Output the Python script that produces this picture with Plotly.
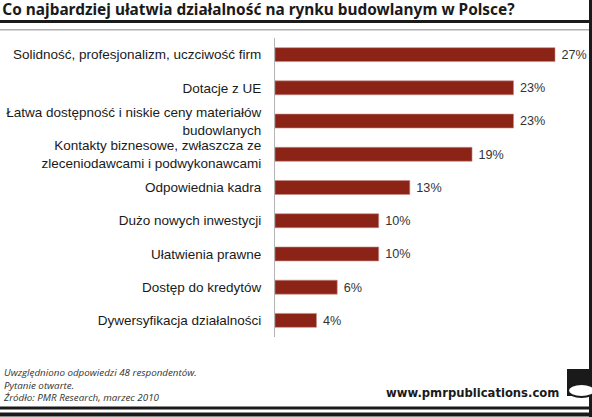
import plotly.graph_objects as go

# Data
categories = [
    "Solidność, profesjonalizm, uczciwość firm",
    "Dotacje z UE",
    "Łatwa dostępność i niskie ceny materiałów<br>budowlanych",
    "Kontakty biznesowe, zwłaszcza ze<br>zleceniodawcami i podwykonawcami",
    "Odpowiednia kadra",
    "Dużo nowych inwestycji",
    "Ułatwienia prawne",
    "Dostęp do kredytów",
    "Dywersyfikacja działalności",
]
values = [27, 23, 23, 19, 13, 10, 10, 6, 4]

title_text = "Co najbardziej ułatwia działalność na rynku budowlanym w Polsce?"
footnote = ("Uwzględniono odpowiedzi 48 respondentów.<br>"
            "Pytanie otwarte.<br>"
            "Źródło: PMR Research, marzec 2010")
site = "www.pmrpublications.com"

# Figure geometry (pixels)
W, H = 592, 417
L, R, T, B = 275, 7, 38, 80
pw, ph = W - L - R, H - T - B

def px(x):
    return (x - L) / pw

def py(y):
    return (H - B - y) / ph

def band(y0, y1, color, x0=0, x1=W):
    # horizontal strip drawn as a filled rectangle
    return dict(type="rect", xref="paper", yref="paper",
                x0=px(x0), x1=px(x1), y0=py(y1), y1=py(y0),
                fillcolor=color, line=dict(width=0), layer="above")

bar_color = "#8B2317"

fig = go.Figure()
fig.add_trace(go.Bar(
    x=values,
    y=categories,
    orientation="h",
    marker=dict(color=bar_color, line=dict(color="#c98a84", width=0.6)),
    text=[f" {v}%" for v in values],
    textposition="outside",
    textfont=dict(family="Liberation Sans, Arial", size=14.5, color="#333333"),
    cliponaxis=False,
    hoverinfo="skip",
))

shapes = [
    band(20, 23, "#1a1a1a"),      # top thick line
    band(29, 30.5, "#b0b0b0"),    # thin grey line
    band(0, H, "#1a1a1a", 589, 592),  # right border
    band(406.5, 409.5, "#1a1a1a"),  # bottom double line
    band(412.5, 416.5, "#1a1a1a"),
    band(369, 396, "#1a1a1a", 567, 592),  # logo block
    dict(type="circle", xref="paper", yref="paper", x0=px(568), x1=px(595), y0=py(397), y1=py(384),
         fillcolor="white", line=dict(color="#1a1a1a", width=2)),
]

fig.update_layout(
    width=W, height=H,
    margin=dict(l=L, r=R, t=T, b=B, autoexpand=False),
    paper_bgcolor="white",
    plot_bgcolor="white",
    showlegend=False,
    bargap=0.58,
    title=dict(
        text=f"<b>{title_text}</b>",
        font=dict(family="Noto Sans, Open Sans", size=15.4, color="#1a1a1a"),
        x=0.004, xanchor="left", xref="container",
        y=1 - 10 / H, yanchor="middle", yref="container",
        automargin=False,
    ),
    xaxis=dict(
        range=[0, 27 * pw / (555 - L)],
        visible=False,
        fixedrange=True,
        automargin=False,
    ),
    yaxis=dict(
        autorange="reversed",
        showline=True, linecolor="#b5b5b5", linewidth=1,
        showgrid=False, ticks="",
        ticklabelstandoff=10,
        automargin=False,
        fixedrange=True,
        tickfont=dict(family="Liberation Sans, Arial", size=13.5, color="#1a1a1a"),
    ),
    shapes=shapes,
    annotations=[
        dict(text=f"<i>{footnote}</i>", xref="paper", yref="paper", x=px(1), y=py(364),
             xanchor="left", yanchor="top", align="left", showarrow=False,
             font=dict(family="Open Sans", size=9.8, color="#333333")),
        dict(text=f"<b>{site}</b>", xref="paper", yref="paper", x=px(561), y=py(393),
             xanchor="right", yanchor="middle", showarrow=False,
             font=dict(family="DejaVu Sans", size=11.6, color="#1a1a1a")),
    ],
)

# pin the plot to the page's top-left corner instead of the body's 8px margin
pin = ("var d=document.getElementById('{plot_id}');"
       "d.style.position='absolute';d.style.left='0px';d.style.top='0px';")
fig.write_html("out.html", config={"displayModeBar": False}, post_script=pin)
